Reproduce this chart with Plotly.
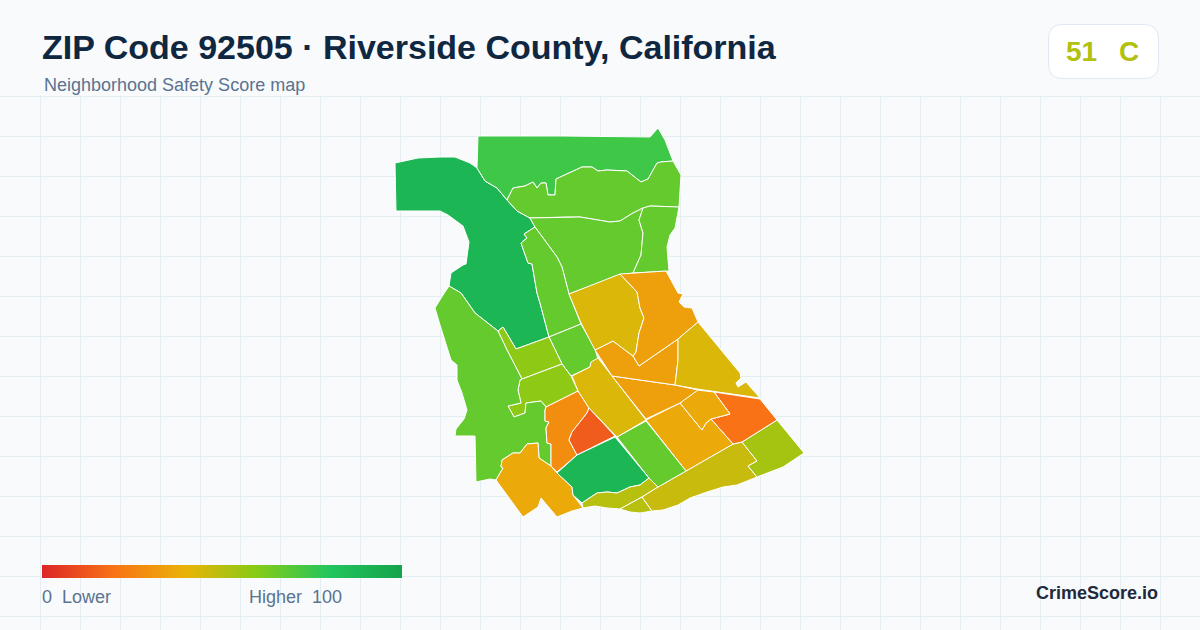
import plotly.graph_objects as go
from plotly.colors import sample_colorscale

# score colours, same ramp as the legend bar
score_scale = [[0, '#dc2626'], [0.2, '#f97316'], [0.4, '#eab308'],
               [0.6, '#84cc16'], [0.8, '#22c55e'], [1, '#16a34a']]

# neighbourhood outlines (map units = 1200x630 frame)
west_hills = [(395,163),(418,158),(440,157),(455,157),(470,163),(477,168),(485,181),(497,188),(507,200),(517,211),
              (530,218),(535,227),(524,234),(527,238),(521,243),(528,263),(532,264),(537,293),(540,303),(549,337),
              (516,349),(503,327),(498,331),(475,313),(461,293),(449,286),(451,273),(463,265),(466,264),(469,242),
              (463,226),(448,215),(440,211),(418,211),(396,211)]
north_top = [(478,136),(563,136),(650,137),(658,128),(665,140),(673,161),(661,162),(657,163),(648,179),(641,182),
             (627,171),(607,170),(598,171),(592,167),(582,167),(556,179),(555,195),(548,195),(546,183),(541,183),
             (537,188),(533,182),(525,186),(513,188),(507,200),(497,188),(485,181),(477,168)]
north_band = [(507,200),(513,188),(525,186),(533,182),(537,188),(541,183),(546,183),(548,195),(555,195),(556,179),
              (582,167),(592,167),(598,171),(607,170),(627,171),(641,182),(648,179),(657,163),(661,162),(673,161),
              (681,175),(679,207),(650,206),(643,208),(633,213),(620,221),(610,222),(580,217),(567,217),(530,218),(517,211)]
north_mid = [(530,218),(567,217),(580,217),(610,222),(620,221),(633,213),(643,208),(639,220),(643,233),(641,255),
             (633,273),(620,275),(569,294),(562,267),(557,257),(535,227)]
north_east = [(643,208),(650,206),(679,207),(675,228),(670,235),(667,247),(669,271),(633,273),(641,255),(643,233),(639,220)]
river_strip = [(535,227),(557,257),(562,267),(569,294),(581,324),(549,337),(540,303),(537,293),(532,264),(528,263),
               (521,243),(527,238),(524,234)]
river_block = [(581,324),(549,337),(562,364),(571,376),(590,367),(591,363),(598,359),(595,349)]
lime_upper = [(516,349),(549,337),(562,364),(522,379),(507,350),(498,331),(503,327)]
lime_lower = [(522,379),(562,364),(571,376),(578,391),(546,407),(541,401),(526,403),(525,413),(514,417),(508,406),
              (521,403),(518,390),(520,380)]
west_large = [(449,286),(461,293),(475,313),(498,331),(507,350),(522,379),(520,380),(518,390),(521,403),(508,406),
              (514,417),(525,413),(526,403),(541,401),(546,407),(545,410),(545,421),(549,422),(546,428),(547,443),
              (551,444),(551,466),(539,458),(538,443),(527,444),(520,453),(513,453),(502,460),(501,467),(503,468),
              (496,480),(490,479),(476,482),(475,436),(455,436),(456,429),(464,419),(467,410),(462,393),(457,380),
              (457,365),(451,360),(440,325),(435,308),(443,295)]
south_west = [(496,480),(503,468),(501,467),(502,460),(513,453),(520,453),(527,444),(538,443),(539,458),(551,466),
              (557,473),(572,487),(573,495),(583,508),(572,511),(557,517),(541,498),(538,507),(523,517)]
center_west = [(546,407),(578,391),(589,408),(587,413),(572,432),(569,440),(577,455),(557,472),(551,466),(551,444),
               (547,443),(546,428),(549,422),(545,421),(545,410)]
center_red = [(589,408),(615,436),(577,455),(569,440),(572,432),(587,413)]
south_green = [(615,437),(649,478),(640,485),(630,487),(617,493),(607,492),(597,493),(582,503),(573,495),(572,487),
               (557,473),(577,455)]
south_strip = [(582,503),(597,493),(607,492),(617,493),(630,487),(640,485),(649,478),(658,487),(642,497),(620,509),
               (607,508),(595,506),(583,508)]
south_small = [(620,509),(642,497),(652,511),(640,513),(630,512)]
south_long = [(642,497),(658,487),(686,471),(733,444),(742,442),(757,461),(748,466),(757,477),(737,485),(723,487),
              (707,492),(690,498),(678,505),(663,510),(652,511)]
east_tip = [(742,442),(777,420),(804,453),(783,467),(757,477),(748,466),(757,461)]
east_orange = [(777,420),(760,399),(714,392),(730,414),(711,419),(733,444),(742,442)]
east_block = [(646,420),(680,403),(702,430),(706,423),(711,419),(733,444),(686,471)]
east_small = [(680,403),(697,390),(714,392),(730,414),(711,419),(706,423),(702,430)]
green_stripe = [(617,437),(646,421),(686,471),(658,487),(649,478)]
yellow_strip = [(572,376),(590,367),(591,362),(598,358),(612,376),(646,420),(617,437),(589,408),(578,391)]
mid_triangle = [(612,376),(675,385),(698,390),(680,403),(646,419)]
mid_orange = [(595,350),(613,341),(633,356),(639,366),(678,339),(678,360),(675,385),(612,376)]
upper_yellow = [(569,294),(620,274),(637,292),(640,308),(644,318),(639,333),(636,352),(633,356),(613,341),(595,350),(581,323)]
upper_orange = [(620,274),(635,273),(666,271),(678,293),(683,294),(679,302),(684,307),(692,308),(698,322),(678,339),
                (639,366),(633,356),(636,352),(639,333),(644,318),(640,308),(637,292)]
east_yellow = [(698,322),(740,373),(741,378),(736,383),(738,387),(746,382),(760,398),(697,389),(675,385),(678,360),(678,339)]

areas = [west_hills, north_top, north_band, north_mid, north_east, river_strip, river_block, lime_upper, lime_lower,
         west_large, south_west, center_west, center_red, south_green, south_strip, south_small, south_long, east_tip,
         east_orange, east_block, east_small, green_stripe, yellow_strip, mid_triangle, mid_orange, upper_yellow,
         upper_orange, east_yellow]
area_scores = [89, 74, 66.5, 66.5, 66.5, 66.5, 66.5, 58, 58,
               66.5, 37, 28, 14, 89, 50, 50, 46.5, 53.5,
               20, 37, 37, 66.5, 43, 34, 34, 43,
               34, 43]
zip_score = 51

fig = go.Figure()

for area, score in zip(areas, area_scores):
    fig.add_trace(go.Scatter(x=[p[0] for p in area] + [area[0][0]],
                             y=[p[1] for p in area] + [area[0][1]],
                             mode='lines', fill='toself',
                             fillcolor=sample_colorscale(score_scale, score / 100)[0],
                             line={'color': '#ffffff', 'width': 1},
                             hoverinfo='skip', showlegend=False))

# legend bar
fig.add_trace(go.Scatter(x=[-50, -50], y=[-50, -50], mode='markers', showlegend=False, hoverinfo='skip',
                         marker={'color': [0, 100], 'colorscale': score_scale, 'cmin': 0, 'cmax': 100,
                                 'colorbar': {'orientation': 'h', 'x': 42 / 1200, 'xanchor': 'left',
                                              'y': 1 - 565 / 630, 'yanchor': 'top', 'len': 360, 'lenmode': 'pixels',
                                              'thickness': 13, 'thicknessmode': 'pixels', 'xpad': 0, 'ypad': 0,
                                              'outlinewidth': 0, 'ticks': '', 'showticklabels': False}}))

# header strip hides the grid, badge is a rounded box
fig.add_shape(type='rect', x0=0, x1=1200, y0=0, y1=95.5, fillcolor='#f8fafc', line_width=0, layer='between')
fig.add_shape(type='path', layer='between', fillcolor='#ffffff', line={'color': '#e2e8f0', 'width': 1},
              path='M 1062 24.5 L 1144 24.5 Q 1158.5 24.5 1158.5 39 L 1158.5 64 Q 1158.5 78.5 1144 78.5 '
                   'L 1062 78.5 Q 1048.5 78.5 1048.5 64 L 1048.5 39 Q 1048.5 24.5 1062 24.5 Z')

font_name = 'Liberation Sans, Arial, sans-serif'


def label(text, x, y, size, color, anchor='left', bold=False):
    fig.add_annotation(text=f'<b>{text}</b>' if bold else text, x=x, y=y, xanchor=anchor, yanchor='middle',
                       showarrow=False, borderpad=0, borderwidth=0,
                       font={'family': font_name, 'size': size, 'color': color})


label('ZIP Code 92505 · Riverside County, California', 42, 47, 34, '#0f2740', bold=True)
label('Neighborhood Safety Score map', 44, 85, 18, '#5a7390')
label(str(zip_score), 1066, 51, 28, sample_colorscale(score_scale, zip_score / 100)[0], bold=True)
label('C', 1119, 51, 28, sample_colorscale(score_scale, zip_score / 100)[0], bold=True)
label('0  Lower', 42, 597, 18, '#5a7390')
label('Higher  100', 249, 597, 18, '#5a7390')
label('CrimeScore.io', 1158, 593, 18, '#1e293b', anchor='right', bold=True)

fig.update_layout(width=1200, height=630, margin={'l': 0, 'r': 0, 't': 0, 'b': 0},
                  paper_bgcolor='#f8fafc', plot_bgcolor='#f8fafc', showlegend=False,
                  xaxis={'range': [0, 1200], 'tick0': 0, 'dtick': 40, 'gridcolor': '#e4eef2', 'gridwidth': 1,
                         'showticklabels': False, 'zeroline': False, 'ticks': ''},
                  yaxis={'range': [630, 0], 'tick0': 16, 'dtick': 40, 'gridcolor': '#e4eef2', 'gridwidth': 1,
                         'showticklabels': False, 'zeroline': False, 'ticks': ''})

fig.write_html("out.html", config={'displayModeBar': False},
               post_script="document.body.style.margin = '0';")
